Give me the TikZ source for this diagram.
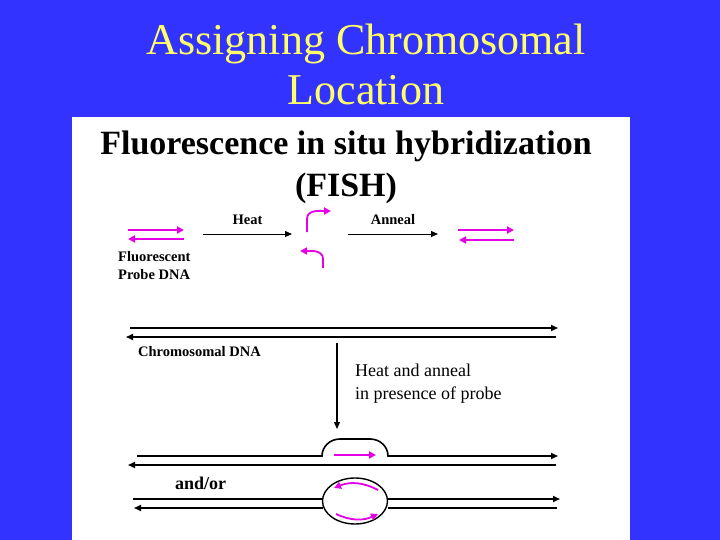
\documentclass[tikz,border=0pt]{standalone}
\usepackage{fontspec}
\setmainfont{Liberation Serif}
\usetikzlibrary{arrows.meta,shapes.geometric}
\definecolor{slideblue}{RGB}{51,51,255}
\definecolor{titleyellow}{RGB}{255,255,102}
\definecolor{probe}{RGB}{230,0,230}
\tikzset{
  strand/.style={line width=1.6pt,-{Triangle[length=7pt,width=6pt]}},
  probearr/.style={probe,line width=1.8pt,-{Triangle[length=7pt,width=7pt]}},
  lbl/.style={font=\bfseries\fontsize{14.5}{18}\selectfont,inner sep=0pt},
}
\begin{document}
\begin{tikzpicture}[x=1pt,y=-1pt]
    \fill[slideblue] (0,0) rectangle (720,540);
    \fill[white] (72,117) rectangle (630,540);
    \node[titleyellow,align=center,font=\fontsize{44}{50}\selectfont] (title) at (366,64) {Assigning Chromosomal\\Location};
    \node[align=center,font=\bfseries\fontsize{34}{42}\selectfont] (head) at (346,167) {Fluorescence in situ hybridization\\(FISH)};
    % probe and heat/anneal
    \coordinate (p1a) at (128,230); \coordinate (p1b) at (184,230);
    \coordinate (p2a) at (184,239); \coordinate (p2b) at (128,239);
    \draw[probearr] (p1a) -- (p1b);
    \draw[probearr] (p2a) -- (p2b);
    \node[lbl,align=left,anchor=north west] (fpd) at (118,251) {Fluorescent\\Probe DNA};
    \coordinate (h1) at (203,234); \coordinate (h2) at (292,234);
    \draw[strand,line width=1pt] (h1) -- node[lbl,above=9pt] (heat) {Heat} (h2);
    \coordinate (b1) at (307,232); \coordinate (b2) at (331,211);
    \draw[probearr] (b1) -- (307,219) to[out=90,in=180] (b2);
    \coordinate (c1) at (323,268); \coordinate (c2) at (300,251);
    \draw[probearr] (c1) -- (323,259) to[out=90,in=0] (c2);
    \coordinate (a1) at (348,234); \coordinate (a2) at (438,234);
    \draw[strand,line width=1pt] (a1) -- node[lbl,above=9pt] (anneal) {Anneal} (a2);
    \coordinate (q1a) at (458,230); \coordinate (q1b) at (514,230);
    \coordinate (q2a) at (514,240); \coordinate (q2b) at (459,240);
    \draw[probearr] (q1a) -- (q1b);
    \draw[probearr] (q2a) -- (q2b);
    % chromosomal DNA
    \coordinate (d1a) at (130,328); \coordinate (d1b) at (558,328);
    \coordinate (d2a) at (556,337); \coordinate (d2b) at (126,337);
    \draw[strand] (d1a) -- (d1b);
    \draw[strand] (d2a) -- (d2b);
    \node[lbl,anchor=west] (cdna) at (138,352) {Chromosomal DNA};
    \coordinate (v1) at (337,343); \coordinate (v2) at (337,429);
    \draw[strand,line width=1.2pt] (v1) -- (v2);
    \node[align=left,anchor=west,font=\fontsize{18}{23}\selectfont,inner sep=0pt] (hap) at (355,384) {Heat and anneal\\in presence of probe};
    % hybrid, one strand
    \coordinate (e1a) at (137,456); \coordinate (e1b) at (558,456);
    \draw[strand] (e1a) -- (322,456) to[out=90,in=180] (340,439) -- (370,439) to[out=0,in=90] (388,456) -- (e1b);
    \coordinate (e2a) at (556,465); \coordinate (e2b) at (128,465);
    \draw[strand] (e2a) -- (e2b);
    \coordinate (g1) at (334,455); \coordinate (g2) at (376,455);
    \draw[probearr] (g1) -- (g2);
    \node[lbl,font=\bfseries\fontsize{18}{20}\selectfont,anchor=west] (andor) at (175,483) {and/or};
    % hybrid, both strands
    \node[draw,line width=1.4pt,ellipse,minimum width=65pt,minimum height=46pt,inner sep=0pt] (bub) at (355,501) {};
    \coordinate (f1a) at (133,499); \coordinate (f1b) at (560,499);
    \coordinate (f2a) at (557,508); \coordinate (f2b) at (134,508);
    \draw[line width=1.6pt] (f1a) -- (323,499);
    \draw[strand] (388,499) -- (f1b);
    \draw[line width=1.6pt] (f2a) -- (388,508);
    \draw[strand] (323,508) -- (f2b);
    \coordinate (k1) at (378,490); \coordinate (k2) at (334,488);
    \draw[probearr] (k1) to[bend right=25] (k2);
    \coordinate (m1) at (336,514); \coordinate (m2) at (378,514);
    \draw[probearr] (m1) to[bend right=25] (m2);
\end{tikzpicture}
\end{document}
